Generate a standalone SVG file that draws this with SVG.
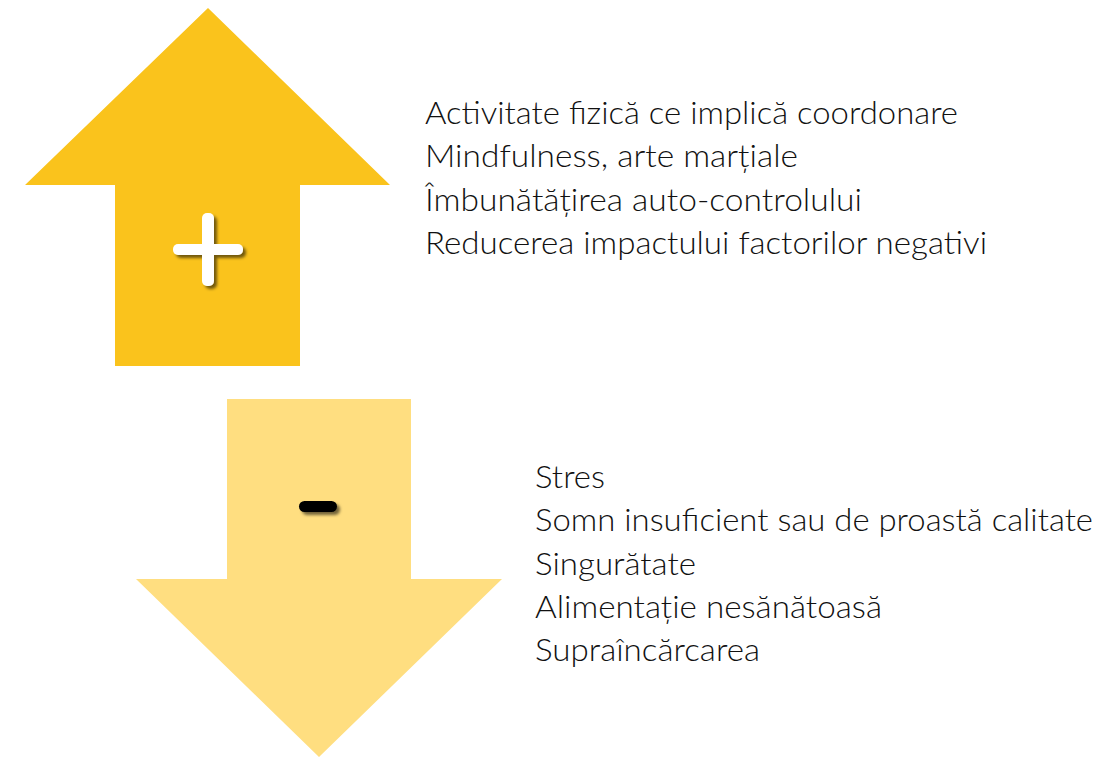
<svg xmlns="http://www.w3.org/2000/svg" width="1116" height="763" viewBox="0 0 1116 763">
<style>
.t{font-family:Lato,"Liberation Sans",sans-serif;font-size:31px;font-weight:300;fill:#111111;}
</style>
<defs>
<filter id="sh" x="-50%" y="-50%" width="200%" height="200%">
<feGaussianBlur in="SourceAlpha" stdDeviation="1.6"/>
<feOffset dx="3" dy="3" result="b"/>
<feFlood flood-color="#000" flood-opacity="0.55"/>
<feComposite in2="b" operator="in"/>
<feMerge><feMergeNode/><feMergeNode in="SourceGraphic"/></feMerge>
</filter>
</defs>
<rect width="1116" height="763" fill="#ffffff"/>
<g id="up-arrow">
<polygon points="208,8 390,185 300,185 300,366 115,366 115,185 25,185" fill="#FAC31C"/>
<g filter="url(#sh)" fill="#ffffff">
<rect x="202" y="213" width="12" height="73" rx="5"/>
<rect x="173" y="244" width="70" height="11" rx="5"/>
</g>
</g>
<g id="down-arrow">
<polygon points="227,399 411,399 411,579 502,579 319,757 136,579 227,579" fill="#FFDE80"/>
<rect x="299" y="501" width="38" height="11" rx="5.5" fill="#000000" filter="url(#sh)"/>
</g>
<g id="positive-list">
<text class="t" x="425" y="124" textLength="533" lengthAdjust="spacingAndGlyphs">Activitate fizică ce implică coordonare</text>
<text class="t" x="425" y="167" textLength="373" lengthAdjust="spacingAndGlyphs">Mindfulness, arte marțiale</text>
<text class="t" x="425" y="211" textLength="437" lengthAdjust="spacingAndGlyphs">Îmbunătățirea auto-controlului</text>
<text class="t" x="425" y="254" textLength="562" lengthAdjust="spacingAndGlyphs">Reducerea impactului factorilor negativi</text>
</g>
<g id="negative-list">
<text class="t" x="535" y="488" textLength="70" lengthAdjust="spacingAndGlyphs">Stres</text>
<text class="t" x="535" y="531" textLength="558" lengthAdjust="spacingAndGlyphs">Somn insuficient sau de proastă calitate</text>
<text class="t" x="535" y="575" textLength="161" lengthAdjust="spacingAndGlyphs">Singurătate</text>
<text class="t" x="535" y="618" textLength="347" lengthAdjust="spacingAndGlyphs">Alimentație nesănătoasă</text>
<text class="t" x="535" y="661" textLength="225" lengthAdjust="spacingAndGlyphs">Supraîncărcarea</text>
</g>
</svg>
